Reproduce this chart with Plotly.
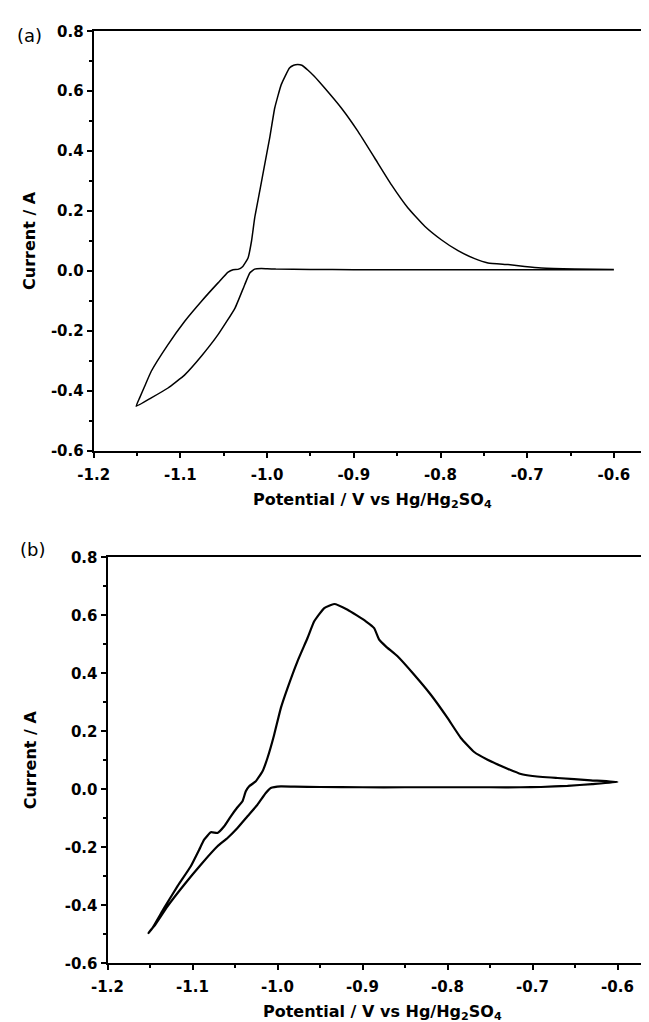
import plotly.graph_objects as go

# ---------------- data ----------------
# Panel (a): cyclic voltammogram, forward (cathodic) scan then reverse scan
pot_a = [-0.600, -0.650, -0.700, -0.750, -0.800, -0.850, -0.900, -0.950, -0.990, -1.000,
         -1.0067, -1.0143, -1.020, -1.0258, -1.037, -1.0566, -1.0759, -1.095, -1.1143, -1.1336,
         -1.151,
         -1.147, -1.1412, -1.1336, -1.1143, -1.095, -1.0759, -1.0566, -1.045, -1.0393, -1.0336,
         -1.028, -1.022, -1.018, -1.0143, -1.0085, -1.0028, -0.997, -0.9912, -0.9837, -0.9742,
         -0.9694, -0.9647, -0.9599, -0.9528, -0.9456, -0.9336, -0.9144, -0.8952, -0.8759, -0.8567,
         -0.8375, -0.8182, -0.7991, -0.7798, -0.7606, -0.7452, -0.7221, -0.7029, -0.6837, -0.6452,
         -0.600]
cur_a = [0.004, 0.004, 0.004, 0.004, 0.004, 0.004, 0.004, 0.005, 0.006, 0.007,
         0.008, 0.006, -0.007, -0.046, -0.124, -0.213, -0.285, -0.347, -0.391, -0.424,
         -0.452,
         -0.424, -0.385, -0.335, -0.246, -0.168, -0.102, -0.040, -0.004, 0.004, 0.005,
         0.015, 0.043, 0.099, 0.177, 0.266, 0.355, 0.444, 0.544, 0.622, 0.6775,
         0.6865, 0.689, 0.6865, 0.670, 0.650, 0.6107, 0.544, 0.466, 0.377, 0.288,
         0.210, 0.149, 0.104, 0.0675, 0.041, 0.0266, 0.021, 0.0147, 0.0097, 0.0065,
         0.005]

# Panel (b)
pot_b = [-0.600, -0.630, -0.6588, -0.690, -0.7137, -0.750, -0.800, -0.850, -0.900, -0.950,
         -0.980, -0.996, -1.0079, -1.0138, -1.0235, -1.0353, -1.0471, -1.0588, -1.0706, -1.0902,
         -1.1098, -1.1294, -1.1451, -1.1518,
         -1.147, -1.1333, -1.1176, -1.102, -1.0921, -1.0863, -1.0784, -1.0706, -1.0627, -1.0549,
         -1.0471, -1.0412, -1.0373, -1.0333, -1.0255, -1.0176, -1.0118, -1.0039, -0.9961, -0.9882,
         -0.9765, -0.9647, -0.9568, -0.945, -0.9333, -0.9176, -0.8961, -0.8863, -0.8804, -0.8726,
         -0.8588, -0.8392, -0.8196, -0.800, -0.7843, -0.7686, -0.7529, -0.7294, -0.7137, -0.700,
         -0.6706, -0.6314, -0.600]
cur_b = [0.025, 0.018, 0.012, 0.008, 0.007, 0.007, 0.007, 0.007, 0.007, 0.008,
         0.009, 0.010, 0.0045, -0.0128, -0.053, -0.093, -0.1334, -0.168, -0.1966, -0.260,
         -0.329, -0.4034, -0.472, -0.4955,
         -0.478, -0.409, -0.334, -0.2655, -0.2083, -0.1738, -0.148, -0.1507, -0.1276, -0.093,
         -0.062, -0.0414, -0.0069, 0.0103, 0.0276, 0.062, 0.108, 0.1883, 0.280, 0.349,
         0.4414, 0.5217, 0.5793, 0.625, 0.639, 0.6193, 0.5793, 0.556, 0.516, 0.493,
         0.4586, 0.395, 0.326, 0.246, 0.177, 0.1286, 0.102, 0.071, 0.0528, 0.0459,
         0.039, 0.031, 0.025]

x_tickvals = [-1.2, -1.1, -1.0, -0.9, -0.8, -0.7, -0.6]
x_ticktext = ["-1.2", "-1.1", "-1.0", "-0.9", "-0.8", "-0.7", "-0.6"]
y_tickvals = [-0.6, -0.4, -0.2, 0.0, 0.2, 0.4, 0.6, 0.8]
y_ticktext = ["-0.6", "-0.4", "-0.2", "0.0", "0.2", "0.4", "0.6", "0.8"]

panel_labels = ["(a)", "(b)"]
y_title = "Current / A"
x_title = "Potential / V vs Hg/Hg<sub>2</sub>SO<sub>4</sub>"

# ---------------- figure ----------------
W, H = 649, 1022
FONT = "DejaVu Sans"

fig = go.Figure()
fig.add_trace(go.Scatter(x=pot_a, y=cur_a, mode="lines", xaxis="x", yaxis="y",
                         line=dict(color="black", width=1.5, shape="spline", smoothing=0.4),
                         showlegend=False, hoverinfo="skip"))
fig.add_trace(go.Scatter(x=pot_b, y=cur_b, mode="lines", xaxis="x2", yaxis="y2",
                         line=dict(color="black", width=2.2, shape="spline", smoothing=0.4),
                         showlegend=False, hoverinfo="skip"))

tickfont = dict(family=FONT, size=15, color="black", weight="bold")


def xax(domain, anchor, rng):
    return dict(domain=domain, anchor=anchor, range=rng, tickmode="array",
                tickvals=x_tickvals, ticktext=x_ticktext, ticks="outside", ticklen=5,
                tickwidth=2, tickcolor="black", showline=True, linecolor="black",
                linewidth=2, mirror=True, showgrid=False, zeroline=False,
                tickfont=tickfont, ticklabelstandoff=4, automargin=False,
                minor=dict(ticks="outside", ticklen=3, tickwidth=1.5, tickcolor="black",
                           dtick=0.05, tick0=-1.2, showgrid=False))


def yax(domain, anchor):
    return dict(domain=domain, anchor=anchor, range=[-0.6, 0.8], tickmode="array",
                tickvals=y_tickvals, ticktext=y_ticktext, ticks="outside", ticklen=5,
                tickwidth=2, tickcolor="black", showline=True, linecolor="black",
                linewidth=2, mirror=False, showgrid=False, zeroline=False,
                tickfont=tickfont, automargin=False,
                minor=dict(ticks="outside", ticklen=3, tickwidth=1.5, tickcolor="black",
                           dtick=0.1, tick0=-0.6, showgrid=False))


# panel (a) pixel box
ax_l, ax_r, ax_t, ax_b = 85.7, 643.0, 23.3, 442.6
# panel (b) pixel box
bx_l, bx_r, bx_t, bx_b = 99.5, 645.0, 549.3, 955.3

xa_max = -1.2 + (ax_r - ax_l) / 867.0
xb_max = -1.2 + (bx_r - bx_l) / 850.0

fig.update_layout(
    width=W, height=H,
    margin=dict(l=0, r=0, t=0, b=0, autoexpand=False),
    paper_bgcolor="white", plot_bgcolor="white",
    xaxis=xax([ax_l / W, ax_r / W], "y", [-1.2, xa_max]),
    yaxis=yax([1 - ax_b / H, 1 - ax_t / H], "x"),
    xaxis2=xax([bx_l / W, bx_r / W], "y2", [-1.2, xb_max]),
    yaxis2=yax([1 - bx_b / H, 1 - bx_t / H], "x2"),
)

ann = []
# panel letters
ann.append(dict(text=panel_labels[0], x=21.7 / W, y=1 - 27.0 / H, xref="paper", yref="paper",
                showarrow=False, xanchor="center", yanchor="middle",
                font=dict(family=FONT, size=18, color="black")))
ann.append(dict(text=panel_labels[1], x=24.0 / W, y=1 - 541.0 / H, xref="paper", yref="paper",
                showarrow=False, xanchor="center", yanchor="middle",
                font=dict(family=FONT, size=18, color="black")))
# y titles
for yc in [(ax_t + ax_b) / 2, (bx_t + bx_b) / 2]:
    ann.append(dict(text="<b>" + y_title + "</b>", x=22.0 / W, y=1 - yc / H, xref="paper",
                    yref="paper", showarrow=False, textangle=-90, xanchor="center",
                    yanchor="middle", font=dict(family=FONT, size=16, color="black")))
# x titles
for xc, yc in [((ax_l + ax_r) / 2, 492.0), ((bx_l + bx_r) / 2 + 2, 1004.0)]:
    ann.append(dict(text="<b>" + x_title + "</b>", x=xc / W, y=1 - yc / H, xref="paper",
                    yref="paper", showarrow=False, xanchor="center", yanchor="middle",
                    font=dict(family=FONT, size=16, color="black")))
fig.update_layout(annotations=ann)

fig.write_html("out.html")
